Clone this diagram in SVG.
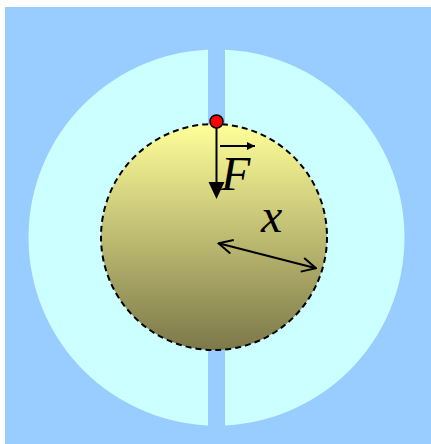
<svg xmlns="http://www.w3.org/2000/svg" width="431" height="444" viewBox="0 0 431 444">
  <style>
    .lbl { font-family: "Liberation Serif", "Times New Roman", serif; font-style: italic; font-size: 48px; fill: #000; }
    .ln { stroke: #000; stroke-width: 2; fill: none; }
  </style>
  <defs>
    <linearGradient id="ball" x1="0" y1="0" x2="0" y2="1">
      <stop offset="0" stop-color="#FFFF99"/>
      <stop offset="1" stop-color="#7C784A"/>
    </linearGradient>
    <marker id="solid" viewBox="0 0 10 10" refX="10" refY="5" markerWidth="8" markerHeight="8" markerUnits="userSpaceOnUse" orient="auto">
      <path d="M0,0 L10,5 L0,10 z" fill="#000"/>
    </marker>
    <marker id="open" viewBox="0 0 16 16" refX="15" refY="8" markerWidth="16" markerHeight="16" markerUnits="userSpaceOnUse" orient="auto-start-reverse">
      <path d="M1,1 L15,8 L1,15" fill="none" stroke="#000" stroke-width="2"/>
    </marker>
  </defs>
  <rect x="5" y="7" width="426" height="437" fill="#99CCFF"/>
  <g id="shell">
    <circle cx="216.5" cy="237.5" r="188" fill="#CCFFFF"/>
    <rect x="208" y="45" width="17" height="385" fill="#99CCFF"/>
  </g>
  <g id="sphere">
    <circle cx="214" cy="237" r="113" fill="url(#ball)" stroke="#000" stroke-width="2" stroke-dasharray="6,4"/>
  </g>
  <g id="connectors">
    <line class="ln" x1="216.5" y1="122" x2="216.5" y2="184"/>
    <path d="M208.5,182 L224.5,182 L216.5,199 z" fill="#000"/>
    <line class="ln" x1="220" y1="146" x2="255" y2="146" stroke-width="1.5" marker-end="url(#solid)"/>
    <line class="ln" x1="218.5" y1="243.3" x2="316" y2="268.3" marker-start="url(#open)" marker-end="url(#open)"/>
  </g>
  <g id="mass">
    <circle cx="216.5" cy="121.5" r="6.5" fill="#FF0000" stroke="#000" stroke-width="1.5"/>
  </g>
  <g id="labels">
    <text class="lbl" x="221" y="190">F</text>
    <text class="lbl" x="261" y="232">x</text>
  </g>
</svg>
